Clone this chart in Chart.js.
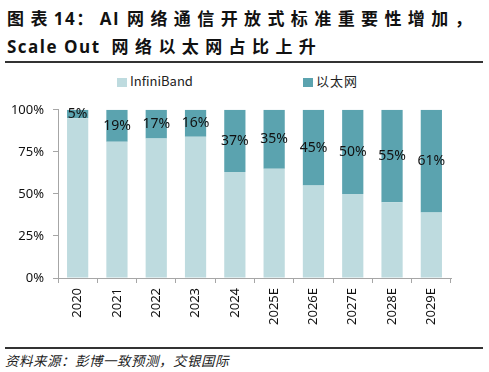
<!DOCTYPE html>
<html>
<head>
<meta charset="utf-8">
<script src="https://cdn.jsdelivr.net/npm/chart.js@4"></script>
<style>
  body { margin: 0; background: #fff; width: 489px; height: 372px; position: relative; overflow: hidden; font-family: "Noto Sans CJK SC", "Noto Sans", sans-serif; }
  .title { position: absolute; left: 7px; top: 4px; font-size: 17px; font-weight: bold; line-height: 27px; color: #111; white-space: nowrap; }
  .cjk { letter-spacing: 6.4px; }
  .lat { font-family: "Open Sans", sans-serif; letter-spacing: 1.5px; }
  .rule { position: absolute; left: 5px; width: 478px; background: #333; }
  .legend { position: absolute; top: 73px; left: 0; width: 489px; height: 16px; font-size: 13px; color: #222; }
  .legend span.item { position: absolute; top: 0; line-height: 16px; white-space: nowrap; }
  .legend i { display: inline-block; width: 10px; height: 9px; margin-right: 3px; vertical-align: -1px; }
  .source { position: absolute; left: 5px; top: 350px; font-size: 13.5px; font-style: italic; color: #222; letter-spacing: 0.5px; white-space: nowrap; }
  #wrap { position: absolute; left: 0; top: 93px; width: 489px; height: 252px; }
</style>
</head>
<body>
<div class="title">
  <div><span class="cjk">图表</span><span class="lat">14</span><span class="cjk">：</span><span class="lat">AI</span><span class="cjk" style="margin-left:7px">网络通信开放式标准重要性增加，</span></div>
  <div><span class="lat">Scale Out</span><span class="cjk" style="margin-left:11px">网络以太网占比上升</span></div>
</div>
<div class="rule" style="top:61px;height:2px;"></div>
<div class="legend" id="legend"></div>
<div id="wrap"><canvas id="chart"></canvas></div>
<div class="rule" style="top:347px;height:1.5px;"></div>
<div class="source">资料来源：彭博一致预测，交银国际</div>

<script>
const years = ["2020", "2021", "2022", "2023", "2024", "2025E", "2026E", "2027E", "2028E", "2029E"];
const ethernetShare = [5, 19, 17, 16, 37, 35, 45, 50, 55, 61];
const infinibandShare = [95, 81, 83, 84, 63, 65, 55, 50, 45, 39];
const yTickValues = [0, 25, 50, 75, 100];
const seriesNames = ["InfiniBand", "以太网"];
const seriesColors = ["#bedbdf", "#5ba3af"];

// legend drawn as html, the chart.js one can't space items like the source
function buildLegend(el) {
  const lefts = [117, 303];
  seriesNames.forEach((name, i) => {
    const item = document.createElement("span");
    item.className = "item";
    item.style.left = lefts[i] + "px";
    if (i === 1) item.style.letterSpacing = "1px";
    item.innerHTML = '<i style="background:' + seriesColors[i] + '"></i>' + name;
    el.appendChild(item);
  });
}

const barLabels = {
  id: "barLabels",
  afterDatasetsDraw(chart) {
    const ctx = chart.ctx;
    const meta = chart.getDatasetMeta(1);
    ctx.save();
    ctx.font = '14px "Noto Sans", sans-serif';
    ctx.fillStyle = "#111";
    ctx.textAlign = "center";
    ctx.textBaseline = "middle";
    meta.data.forEach((bar, i) => {
      ctx.fillText(ethernetShare[i] + "%", bar.x, (bar.y + bar.base) / 2);
    });
    ctx.restore();
  },
};

function loadShareChart(canvas) {
  return new Chart(canvas, {
    type: "bar",
    data: {
      labels: years,
      datasets: [
        { label: seriesNames[0], data: infinibandShare, backgroundColor: seriesColors[0] },
        { label: seriesNames[1], data: ethernetShare, backgroundColor: seriesColors[1] },
      ],
    },
    options: {
      responsive: true,
      maintainAspectRatio: false,
      animation: false,
      categoryPercentage: 1,
      barPercentage: 0.54,
      layout: { padding: { left: 0, right: 38, top: 11, bottom: 0 } },
      plugins: { legend: { display: false }, tooltip: { enabled: false } },
      scales: {
        x: {
          stacked: true,
          grid: { drawOnChartArea: false, tickLength: 5, color: "#a6a6a6" },
          border: { color: "#a6a6a6" },
          ticks: {
            color: "#111",
            font: { family: '"Noto Sans", sans-serif', size: 13 },
            minRotation: 90,
            maxRotation: 90,
            padding: 5,
            autoSkip: false,
          },
          afterFit: (s) => { s.height = 67; },
        },
        y: {
          stacked: true,
          min: 0,
          max: 100,
          afterBuildTicks: (s) => { s.ticks = yTickValues.map((v) => ({ value: v })); },
          grid: { drawOnChartArea: false, tickLength: 5, color: "#a6a6a6" },
          border: { color: "#a6a6a6" },
          ticks: {
            color: "#111",
            font: { family: '"Noto Sans", sans-serif', size: 13 },
            padding: 9,
            callback: (v) => v + "%",
          },
          afterFit: (s) => { s.width = 58; },
        },
      },
    },
    plugins: [barLabels],
  });
}

document.addEventListener("DOMContentLoaded", () => {
  buildLegend(document.getElementById("legend"));
  loadShareChart(document.getElementById("chart"));
});
</script>
</body>
</html>
